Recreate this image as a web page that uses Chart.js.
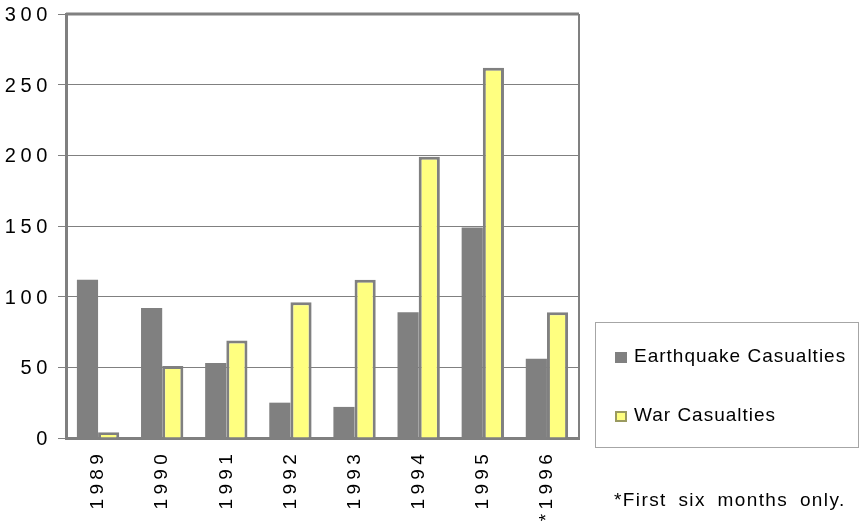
<!DOCTYPE html>
<html>
<head>
<meta charset="utf-8">
<script src="https://cdn.jsdelivr.net/npm/chart.js@4/dist/chart.umd.min.js"></script>
<style>
  html, body { margin: 0; padding: 0; background: #fff; }
  #wrap { position: relative; width: 859px; height: 529px; overflow: hidden; }
  #chart { position: absolute; left: 0; top: 0; }
  #legend {
    position: absolute; left: 595px; top: 322px; width: 262px; height: 124px;
    border: 1px solid #a6a6a6; box-sizing: content-box;
    font-family: "Liberation Sans", Arial, sans-serif; font-size: 19px; color: #000;
    letter-spacing: 1px;
  }
  .item { position: absolute; left: 19px; height: 22px; line-height: 22px; white-space: nowrap; }
  .swatch { display: inline-block; width: 12px; height: 11px; box-sizing: border-box; margin-right: 7px; vertical-align: -1px; }
  #note {
    position: absolute; left: 614px; top: 489px;
    font-family: "Liberation Sans", Arial, sans-serif; font-size: 19px; color: #000;
    letter-spacing: 1.4px; word-spacing: 5px; white-space: nowrap;
  }
</style>
</head>
<body>
<div id="wrap">
  <canvas id="chart" width="859" height="529"></canvas>
  <div id="legend"></div>
  <div id="note">*First six months only.</div>
</div>
<script>
// Casualties per year
const years = ['1989', '1990', '1991', '1992', '1993', '1994', '1995', '*1996'];
const earthquakeCasualties = [112, 92, 53, 25, 22, 89, 149, 56];
const warCasualties = [4, 51, 69, 96, 112, 199, 262, 89];
const yTicks = { min: 0, max: 300, step: 50 };

const GRAY = '#808080';
const YELLOW = '#ffff80';
const FAMILY = '"Liberation Sans", Arial, sans-serif';
const X_FONT = { family: FAMILY, size: 19, lineHeight: 1 };
const Y_FONT = { family: FAMILY, size: 20, lineHeight: 1 };
const LABEL_SPACING = { x: '4.3px', y: '4.6px' };

// Spaced-out tick text: wrap each axis' label drawing with its own letter spacing
const spacedText = {
  id: 'spacedText',
  afterUpdate(chart) {
    Object.keys(LABEL_SPACING).forEach(id => {
      const scale = chart.scales[id];
      if (!scale || scale._spaced) return;
      const draw = scale.drawLabels.bind(scale);
      scale.drawLabels = function (area) {
        const ctx = this.ctx;
        ctx.save();
        ctx.letterSpacing = LABEL_SPACING[id];
        draw(area);
        ctx.restore();
      };
      scale._spaced = true;
    });
  }
};

// Top and right edges of the plot frame
const plotFrame = {
  id: 'plotFrame',
  afterDatasetsDraw(chart) {
    const { ctx, chartArea: a } = chart;
    ctx.save();
    ctx.strokeStyle = GRAY;
    ctx.lineWidth = 3;
    ctx.beginPath();
    ctx.moveTo(a.left, a.top);
    ctx.lineTo(a.right, a.top);
    ctx.stroke();
    ctx.lineWidth = 2;
    ctx.beginPath();
    ctx.moveTo(a.right, a.top);
    ctx.lineTo(a.right, a.bottom);
    ctx.stroke();
    ctx.restore();
  }
};

const chart = new Chart(document.getElementById('chart'), {
  type: 'bar',
  data: {
    labels: years,
    datasets: [
      {
        label: 'Earthquake Casualties',
        data: earthquakeCasualties,
        backgroundColor: GRAY,
        borderWidth: 0
      },
      {
        label: 'War Casualties',
        data: warCasualties,
        backgroundColor: YELLOW,
        borderColor: GRAY,
        borderWidth: 3
      }
    ]
  },
  options: {
    responsive: false,
    animation: false,
    devicePixelRatio: 1,
    layout: { padding: { left: 0, right: 280, top: 14, bottom: 0 } },
    datasets: { bar: { categoryPercentage: 0.66, barPercentage: 1.0 } },
    plugins: { legend: { display: false }, tooltip: { enabled: false } },
    scales: {
      x: {
        grid: { display: false, drawTicks: false },
        border: { display: true, color: GRAY, width: 3 },
        ticks: {
          color: '#000', font: X_FONT, autoSkip: false,
          minRotation: 90, maxRotation: 90, padding: 12
        },
        afterFit(scale) { scale.height = 91; }
      },
      y: {
        min: yTicks.min, max: yTicks.max,
        grid: { color: GRAY, lineWidth: 1, drawTicks: true, tickLength: 8, tickColor: GRAY },
        border: { display: true, color: GRAY, width: 3 },
        ticks: { stepSize: yTicks.step, color: '#000', font: Y_FONT, padding: 6, labelOffset: 1.5 },
        afterFit(scale) {
          scale.width = 66;
          scale.paddingTop = 0;
          scale.paddingBottom = 0;
        }
      }
    }
  },
  plugins: [spacedText, plotFrame]
});
chart.draw();

// Legend box built from the chart's datasets
const legend = document.getElementById('legend');
chart.data.datasets.forEach((ds, i) => {
  const item = document.createElement('div');
  item.className = 'item';
  item.style.top = (i === 0 ? 22 : 81) + 'px';
  const sw = document.createElement('span');
  sw.className = 'swatch';
  sw.style.background = ds.backgroundColor;
  if (ds.borderWidth) sw.style.border = '2px solid #9a9a60';
  item.appendChild(sw);
  item.appendChild(document.createTextNode(ds.label));
  legend.appendChild(item);
});
</script>
</body>
</html>
